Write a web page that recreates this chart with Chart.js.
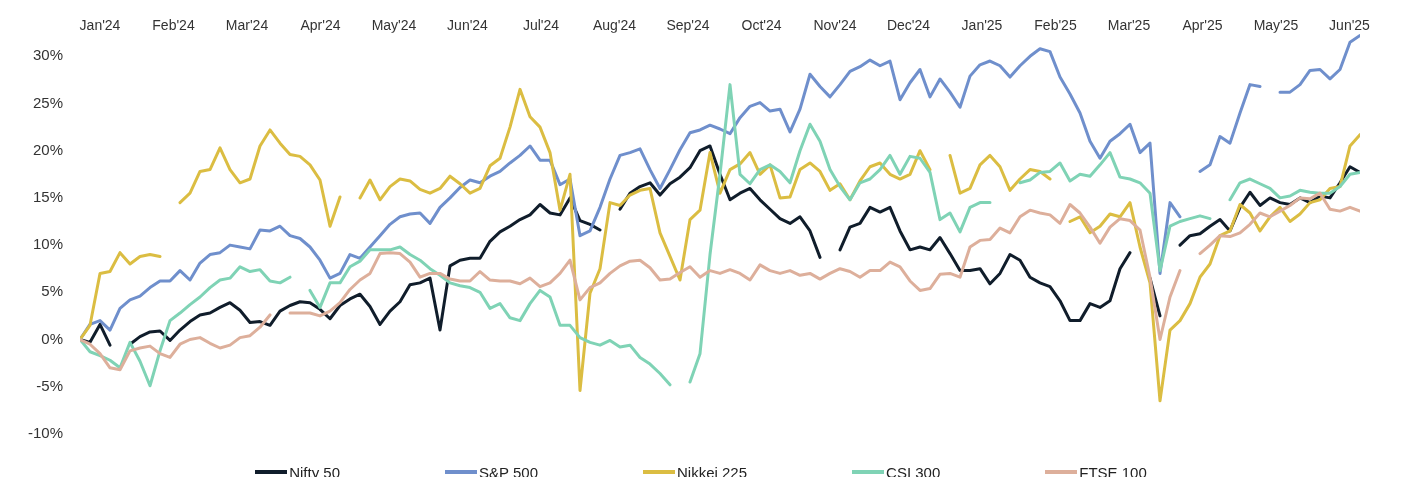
<!DOCTYPE html>
<html><head><meta charset="utf-8">
<script src="https://cdn.jsdelivr.net/npm/chart.js@4.4.1/dist/chart.umd.min.js"></script>
<style>
html,body{margin:0;padding:0;background:#fff;overflow:hidden;width:1402px;height:477px;}
#wrap{position:absolute;left:0;top:0;width:1402px;height:477px;}
#legend{position:absolute;left:0;top:464.5px;width:1402px;display:flex;justify-content:center;gap:105px;font:15px/15px "Liberation Sans",Arial,sans-serif;color:#222;white-space:nowrap;}
.item{display:flex;align-items:center;}
.swatch{width:32px;height:4px;margin-right:2px;}
</style></head><body>
<div id="wrap"><canvas id="c"></canvas></div>
<div id="legend"></div>
<script>
// ---- data (values in %, sampled at regular steps from Jan'24 to mid-Jun'25) ----
const monthLabels = ["Jan'24","Feb'24","Mar'24","Apr'24","May'24","Jun'24","Jul'24","Aug'24","Sep'24","Oct'24","Nov'24","Dec'24","Jan'25","Feb'25","Mar'25","Apr'25","May'25","Jun'25"];
const yTickValues = [-10,-5,0,5,10,15,20,25,30];
const seriesNames = ["Nifty 50","S&P 500","Nikkei 225","CSI 300","FTSE 100"];
const seriesColors = ["#101d2b","#6f8fcc","#dbbd42","#7fd3b5","#ddaf9b"];

const nifty50 = [0.0,-0.3,1.6,-0.6,null,-0.5,0.3,0.8,0.9,-0.1,1.0,1.9,2.6,2.8,3.4,3.9,3.1,1.8,1.9,1.5,
 3.0,3.6,4.0,3.9,3.2,2.2,3.6,4.3,4.8,3.5,1.6,3.0,4.0,5.8,6.0,6.5,1.0,7.8,8.4,8.6,
 8.6,10.4,11.4,12.0,12.7,13.2,14.3,13.4,13.2,15.0,12.6,12.2,11.6,null,13.8,15.5,16.2,16.6,15.3,16.5,
 17.2,18.2,20.0,20.5,17.5,14.8,15.5,16.0,14.8,13.8,12.8,12.3,13.0,11.5,8.7,null,9.5,11.9,12.3,14.0,
 13.5,14.0,11.5,9.5,9.8,9.5,10.8,9.1,7.3,7.3,7.5,5.9,7.0,9.0,8.4,6.6,6.0,5.6,4.1,2.0,
 2.0,3.8,3.4,4.1,7.5,9.2,null,6.5,2.5,null,10.0,11.0,11.2,12.0,12.7,11.5,14.0,15.6,14.2,15.0,
 14.5,14.3,15.0,14.5,15.2,15.0,16.6,18.3,17.7];
const sp500 = [0.0,1.6,2.0,1.0,3.3,4.2,4.6,5.5,6.2,6.2,7.3,6.3,8.1,9.0,9.2,10.0,9.8,9.6,11.6,11.5,
 12.0,11.0,10.7,9.8,8.4,6.5,7.0,9.0,8.6,9.8,11.0,12.2,13.0,13.3,13.4,12.3,14.0,15.0,16.1,16.9,
 16.6,17.3,17.8,18.7,19.5,20.5,19.0,19.0,16.4,17.0,11.0,11.5,14.0,17.0,19.5,19.8,20.2,18.0,16.0,18.0,
 20.1,21.9,22.2,22.7,22.3,21.8,23.5,24.7,25.1,24.2,24.4,22.0,24.4,28.1,26.8,25.7,27.0,28.4,28.9,29.6,
 29.0,29.5,25.4,27.2,28.6,25.7,27.6,26.2,24.6,27.9,29.1,29.5,29.0,27.8,29.0,30.0,30.8,30.5,27.8,26.0,
 24.0,21.0,19.2,21.0,21.8,22.8,19.8,20.8,7.0,14.5,13.0,null,17.8,18.5,21.5,20.8,24.0,27.0,26.8,null,
 26.2,26.2,27.0,28.5,28.6,27.6,28.6,31.5,32.2];
const nikkei225 = [0.0,1.5,7.0,7.2,9.2,8.0,8.8,9.0,8.8,null,14.5,15.5,17.8,18.0,20.3,18.0,16.6,17.0,20.5,22.2,
 20.8,19.6,19.4,18.5,16.9,12.0,15.1,null,15.0,16.9,14.8,16.2,17.0,16.8,15.9,15.5,16.0,17.3,16.5,15.5,
 16.0,18.4,19.2,22.5,26.5,23.6,22.5,19.8,13.7,17.5,-5.4,4.9,7.5,14.5,14.2,15.3,15.8,16.0,11.3,8.8,
 6.3,12.7,13.7,19.8,15.5,18.0,18.6,19.8,17.5,18.5,15.0,15.1,18.0,18.7,17.8,15.8,16.5,14.8,16.8,18.3,
 18.7,17.5,17.0,17.5,20.0,18.0,null,19.5,15.5,16.0,18.5,19.5,18.3,15.8,17.0,18.0,17.8,17.0,null,12.5,
 13.0,11.3,12.0,13.3,13.0,14.5,9.8,6.0,-6.5,1.0,2.0,3.8,6.6,8.0,11.0,11.5,14.3,13.4,11.5,13.0,
 14.0,12.5,13.3,14.5,14.8,16.0,16.2,20.5,21.7];
const csi300 = [0.0,-1.3,-1.7,-2.2,-3.0,-0.3,-2.3,-4.9,-1.2,2.0,2.8,3.7,4.5,5.5,6.3,6.5,7.7,7.2,7.4,6.2,
 6.0,6.6,null,5.2,3.4,6.0,6.0,7.7,8.3,9.5,9.5,9.5,9.8,9.0,8.4,7.5,6.8,6.0,5.7,5.5,
 5.0,3.3,3.8,2.3,2.0,3.8,5.2,4.5,1.5,1.5,0.2,-0.3,-0.6,-0.1,-0.8,-0.6,-1.9,-2.6,-3.6,-4.8,
 null,-4.5,-1.5,9.0,17.5,27.0,17.5,16.5,18.0,18.5,17.8,16.6,20.0,22.8,21.0,18.0,16.2,14.8,16.6,17.0,
 18.0,19.5,17.5,19.4,19.2,17.7,12.7,13.4,11.4,14.0,14.5,14.5,null,null,16.6,16.9,17.7,17.8,18.7,16.8,
 17.5,17.3,18.5,19.8,17.2,17.0,16.6,15.5,7.3,12.0,12.5,12.8,13.1,12.8,null,14.8,16.6,17.0,16.5,16.0,
 15.0,15.2,15.8,15.6,15.5,15.5,16.2,17.5,17.7];
const ftse100 = [0.0,-0.5,-1.5,-3.0,-3.2,-1.2,-0.9,-0.7,-1.5,-1.9,-0.5,0.0,0.2,-0.4,-0.9,-0.6,0.2,0.4,1.3,2.6,
 null,2.8,2.8,2.8,2.5,3.0,3.9,5.3,6.3,7.0,9.1,9.2,9.1,8.2,6.6,7.0,7.0,6.4,6.2,6.2,
 7.2,6.3,6.2,6.2,5.9,6.5,5.6,6.0,7.0,8.4,4.2,5.5,6.0,7.0,7.8,8.3,8.4,7.6,6.3,6.4,
 7.1,7.7,6.6,7.3,7.0,7.4,7.0,6.3,7.9,7.3,7.0,7.3,6.8,7.0,6.4,7.0,7.5,7.2,6.6,7.3,
 7.3,8.2,7.7,6.2,5.2,5.4,6.9,7.0,6.6,9.8,10.5,10.6,11.8,11.3,13.0,13.7,13.4,13.2,12.3,14.3,
 13.4,11.9,10.2,11.9,12.8,12.6,11.6,6.6,0.0,4.5,7.3,null,9.1,10.0,11.0,10.9,11.3,12.2,13.4,13.0,
 13.6,14.2,15.0,14.9,15.5,13.8,13.6,14.0,13.6];

const allSeries = [nifty50, sp500, nikkei225, csi300, ftse100];

Chart.defaults.font.family = '"Liberation Sans", Arial, sans-serif';
Chart.defaults.color = '#333';

const datasets = allSeries.map((vals, s) => ({
  label: seriesNames[s],
  data: vals.map((v, i) => ({x: i, y: v})),
  borderColor: seriesColors[s],
  backgroundColor: seriesColors[s],
  borderWidth: 3,
  pointRadius: 0,
  tension: 0,
  spanGaps: false,
  borderJoinStyle: 'round',
  borderCapStyle: 'round',
  order: allSeries.length - s
}));

const lastStep = nifty50.length - 1;
new Chart(document.getElementById('c'), {
  type: 'line',
  data: { datasets },
  options: {
    responsive: true,
    maintainAspectRatio: false,
    animation: false,
    devicePixelRatio: 1,
    layout: { padding: { left: 0, right: 42, top: 0, bottom: 43.1 } },
    plugins: { legend: { display: false }, tooltip: { enabled: false } },
    scales: {
      x: {
        type: 'linear', position: 'top', min: 0, max: lastStep,
        grid: { display: false, drawTicks: false }, border: { display: false },
        afterBuildTicks: a => { a.ticks = monthLabels.map((_, k) => ({ value: 2 + 7.35 * k })); },
        afterFit: a => { a.height = 32.7; },
        ticks: { padding: -2, autoSkip: false, maxRotation: 0, font: { size: 14 }, color: '#333',
          callback: (v, i) => monthLabels[i] }
      },
      y: {
        min: -10, max: 32.5,
        grid: { display: false, drawTicks: false }, border: { display: false },
        afterBuildTicks: a => { a.ticks = yTickValues.map(v => ({ value: v })); },
        afterFit: a => { a.width = 80; },
        ticks: { padding: 17, font: { size: 15 }, color: '#333', callback: v => v + '%' }
      }
    }
  }
});

// HTML legend built from the same series definitions
const lg = document.getElementById('legend');
seriesNames.forEach((name, s) => {
  const it = document.createElement('div'); it.className = 'item';
  const sw = document.createElement('span'); sw.className = 'swatch'; sw.style.background = seriesColors[s];
  const tx = document.createElement('span'); tx.textContent = name;
  it.appendChild(sw); it.appendChild(tx); lg.appendChild(it);
});
</script>
</body></html>
